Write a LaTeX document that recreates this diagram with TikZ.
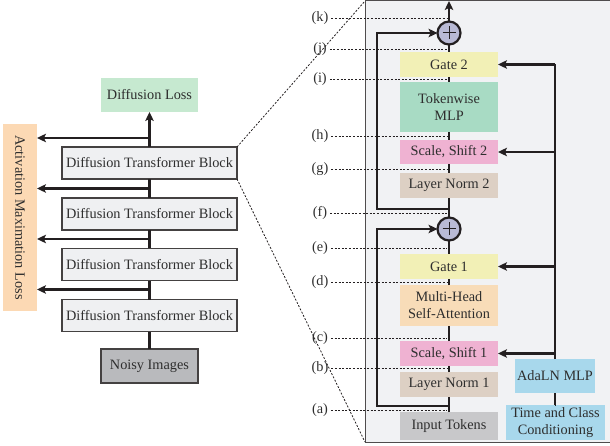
\documentclass[tikz,border=0pt]{standalone}
\usepackage{fontspec}
\setmainfont{Liberation Serif}
\usetikzlibrary{arrows.meta,calc}
\definecolor{txt}{HTML}{2E2E2E}
\definecolor{ln}{HTML}{231F20}
\definecolor{cLoss}{HTML}{C6E9D0}
\definecolor{cAct}{HTML}{FCD9B4}
\definecolor{cDtb}{HTML}{EFF0F2}
\definecolor{cNoisy}{HTML}{B9BABD}
\definecolor{cPanel}{HTML}{F1F2F4}
\definecolor{cGate}{HTML}{F2F0B6}
\definecolor{cMlp}{HTML}{A8DBC4}
\definecolor{cSS}{HTML}{EFB2D2}
\definecolor{cLN}{HTML}{DDD0C4}
\definecolor{cMha}{HTML}{F8DCB8}
\definecolor{cInp}{HTML}{C8C8CA}
\definecolor{cAda}{HTML}{A8D8EC}
\definecolor{cCirc}{HTML}{B9BAD5}
\begin{document}
\begin{tikzpicture}[x=1pt,y=-1pt,
  every node/.style={font=\fontsize{14.3}{17}\selectfont, text=txt, inner sep=0pt, outer sep=0pt},
  plainbox/.style={rectangle, align=center},
  dtbbox/.style={rectangle, draw=ln!85, line width=1.1pt, fill=cDtb, minimum width=175, minimum height=32},
  rbox/.style={rectangle, align=center, minimum width=98, minimum height=25},
  spine/.style={draw=ln, line width=2.4pt},
  arr/.style={draw=ln, line width=2.4pt, -{Stealth[length=9pt,width=8.5pt,inset=2pt]}},
  dots/.style={draw=ln, line width=0.8pt, dash pattern=on 2pt off 1.6pt},
  lbl/.style={anchor=center},
  circ/.style={circle, draw=ln, line width=2.2pt, fill=cCirc, minimum size=23}
]
\useasboundingbox (0,0) rectangle (610,446);

% ---------- left column ----------
\node[plainbox, fill=cLoss, minimum width=97, minimum height=34] (loss) at (149.5,95) {Diffusion Loss};
\node[plainbox, fill=cAct, minimum width=34, minimum height=187] (act) at (20,217.5) {};
\node[rotate=-90] (acttext) at (act.center) {Activation Maximation Loss};
\node[dtbbox] (dtb1) at (149.5,163) {Diffusion Transformer Block};
\node[dtbbox] (dtb2) at (149.5,214) {Diffusion Transformer Block};
\node[dtbbox] (dtb3) at (149.5,264.5) {Diffusion Transformer Block};
\node[dtbbox] (dtb4) at (149.5,315.5) {Diffusion Transformer Block};
\node[plainbox, draw=ln!85, line width=1.1pt, fill=cNoisy, minimum width=97, minimum height=34] (noisy) at (149.5,366) {Noisy Images};

\coordinate (b1) at (149.5,138);
\coordinate (b2) at (149.5,188.5);
\coordinate (b3) at (149.5,239);
\coordinate (b4) at (149.5,289.5);

\draw[spine] (noisy.north) -- (dtb4.south);
\draw[spine] (dtb4.north) -- (dtb3.south);
\draw[spine] (dtb3.north) -- (dtb2.south);
\draw[spine] (dtb2.north) -- (dtb1.south);
\draw[arr] (dtb1.north) -- (loss.south);
\foreach \b in {b1,b2,b3,b4}
  \draw[arr] (\b) -- (act.east |- \b);

% ---------- right panel ----------
\node[rectangle, draw=ln!80, line width=1pt, fill=cPanel, minimum width=246, minimum height=441] (panel) at (488,221.5) {};
\draw[dots] (dtb1.north east) -- (panel.north west);
\draw[dots] (dtb1.south east) -- (panel.south west);

\node[rbox, fill=cGate] (g2) at (449,64.5) {Gate 2};
\node[rbox, fill=cMlp, minimum height=50] (mlp) at (449,107) {Tokenwise\\MLP};
\node[rbox, fill=cSS, minimum height=24] (ss2) at (449,152) {Scale, Shift 2};
\node[rbox, fill=cLN] (ln2) at (449,185.5) {Layer Norm 2};
\node[rbox, fill=cGate] (g1) at (449,266.5) {Gate 1};
\node[rbox, fill=cMha, minimum height=41] (mha) at (449,305.5) {Multi-Head\\Self-Attention};
\node[rbox, fill=cSS] (ss1) at (449,353.5) {Scale, Shift 1};
\node[rbox, fill=cLN] (ln1) at (449,384.5) {Layer Norm 1};
\node[rbox, fill=cInp, minimum height=28] (inp) at (449,426) {Input Tokens};
\node[plainbox, fill=cAda, minimum width=80, minimum height=34] (ada) at (555,376) {AdaLN MLP};
\node[plainbox, fill=cAda, minimum width=99, minimum height=35] (time) at (555.5,422.5) {Time and Class\\Conditioning};

\node[circ] (c2) at (449,33) {};
\node[circ] (c1) at (449,229) {};
\foreach \c in {c1,c2}{
  \draw[ln, line width=1pt] ($(\c.center)+(-6.5,0)$) -- ($(\c.center)+(6.5,0)$);
  \draw[ln, line width=1pt] ($(\c.center)+(0,-6.5)$) -- ($(\c.center)+(0,6.5)$);
}
\coordinate (top) at (449,1);

% labels
\foreach \n/\t/\y in {lk/k/18, lj/j/49, li/i/79, lh/h/136, lg/g/169, lf/f/213, le/e/248, ld/d/282, lc/c/338, lb/b/368, la/a/410}{
  \node[lbl] (\n) at (320,\y) {(\t)};
  \draw[dots] ($(\n.east)+(3,0)$) -- (447,\y);
}

% spine
\draw[spine] (inp.north) -- (ln1.south) (ln1.north) -- (ss1.south)
  (ss1.north) -- (mha.south) (mha.north) -- (g1.south) (g1.north) -- (c1.south)
  (c1.north) -- (ln2.south) (ln2.north) -- (ss2.south) (ss2.north) -- (mlp.south)
  (mlp.north) -- (g2.south) (g2.north) -- (c2.south);
\draw[arr] (c2.north) -- (top);

% residuals
\coordinate (ra) at (449,406);
\coordinate (rl) at (377,406);
\coordinate (rb) at (449,209);
\coordinate (rm) at (377,209);
\draw[arr] (ra) -- (rl) |- (c1.west);
\draw[arr] (rb) -- (rm) |- (c2.west);

% adaLN
\draw[spine] (time.north) -- (ada.north |- time.north) ;
\draw[spine] (ada.south) -- (ada.south |- time.north);
\draw[spine] (ada.north) -- (ada.north |- g2.east);
\foreach \t in {g2,ss2,g1,ss1}
  \draw[arr] (ada.north |- \t.east) -- (\t.east);
\end{tikzpicture}
\end{document}
